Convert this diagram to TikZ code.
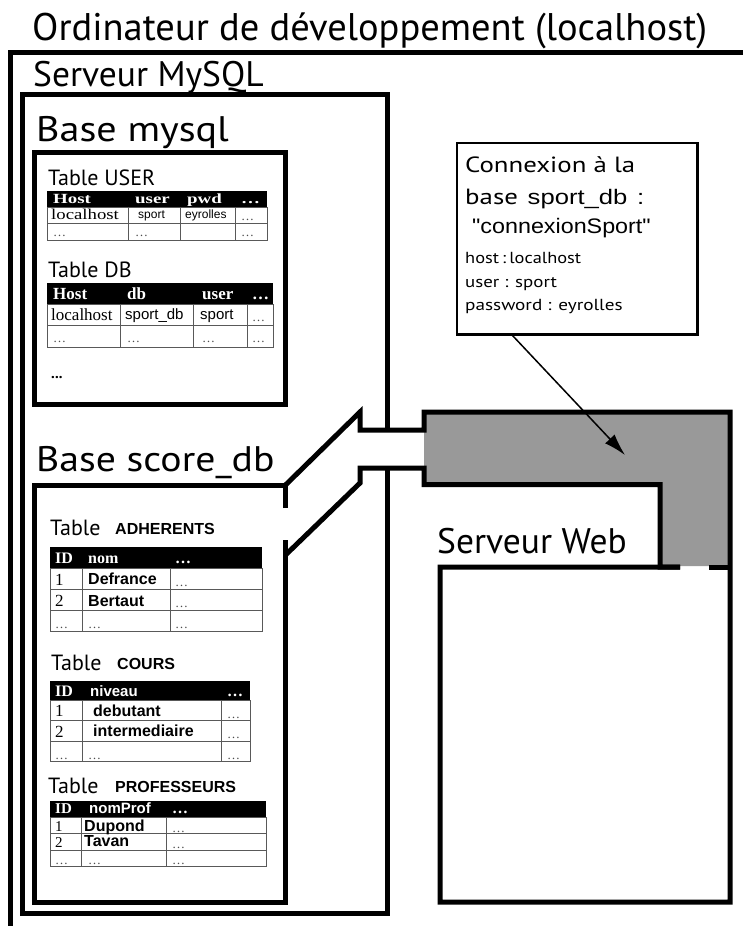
\documentclass[tikz,border=0pt]{standalone}
\usepackage{graphicx}
\usepackage{fontspec}
\setmainfont{PT Sans}
\newfontfamily\arialf{Liberation Sans}
\newfontfamily\timesf{Liberation Serif}
\usetikzlibrary{arrows.meta,calc}

\tikzset{
  frame/.style={line width=5pt, line join=miter},
  cellline/.style={draw=black!65, line width=1pt},
  biglabel/.style={anchor=base west, inner sep=0pt, font=\fontsize{35.5}{40}\selectfont},
  tabtitle/.style={anchor=base west, inner sep=0pt, font=\fontsize{22}{26}\selectfont},
  tabname/.style={anchor=base west, inner sep=0pt, font=\arialf\bfseries\fontsize{16}{18}\selectfont},
  hdr/.style={anchor=base west, inner sep=0pt, text=white, font=\timesf\bfseries\fontsize{16}{18}\selectfont},
  hdrsans/.style={hdr, font=\arialf\bfseries\fontsize{15}{18}\selectfont},
  celltxt/.style={anchor=base west, inner sep=0pt, font=\timesf\fontsize{16}{18}\selectfont},
  cellsans/.style={anchor=base west, inner sep=0pt, font=\arialf\fontsize{15}{18}\selectfont},
  cellbold/.style={anchor=base west, inner sep=0pt, font=\arialf\bfseries\fontsize{16}{18}\selectfont},
  dots/.style={anchor=base west, inner sep=0pt, text=black!70, font=\timesf\fontsize{13}{15}\selectfont},
  conntxt/.style={anchor=base west, inner sep=0pt, font=\fontsize{22}{26}\selectfont},
  connsmall/.style={anchor=base west, inner sep=0pt, font=\fontsize{16}{19}\selectfont},
}

% stretched text
\newcommand{\wide}[2]{\scalebox{#1}[1]{#2}}

% table: left, right, header top, header bottom, row height, rows, column lines
\newcommand{\tablegrid}[7]{%
  \fill[black] (#1,#3) rectangle (#2,#4);
  \draw[cellline] (#1,#4) rectangle (#2,{#4+#6*#5});
  \pgfmathtruncatemacro\lastrow{#6-1}
  \foreach \r in {1,...,\lastrow} \draw[cellline] (#1,{#4+\r*#5}) -- (#2,{#4+\r*#5});
  \foreach \c in {#7} \draw[cellline] (\c,#4) -- (\c,{#4+#6*#5});
}

\begin{document}
\begin{tikzpicture}[x=1pt,y=-1pt]
\useasboundingbox (0,0) rectangle (743,926);

% ordinateur
\begin{scope}
\clip (0,0) rectangle (743,926);
\draw[frame] (760,52.5) -- (10.5,52.5) -- (10.5,928) -- (760,928);
\end{scope}
\node[biglabel, font=\fontsize{38.5}{44}\selectfont] (title) at (32,40) {Ordinateur de développement (localhost)};

% serveur mysql
\draw[frame] (387,430) -- (387,94.5) -- (22.5,94.5) -- (22.5,913) -- (387,913) -- (387,468);
\node[biglabel] (mysqllabel) at (33,86) {Serveur MySQL};

% base mysql
\draw[frame] (34.5,152.5) rectangle (285.5,404.5);
\node[biglabel] (mysqlbase) at (36,141) {\wide{1.13}{Base mysql}};

\node[tabtitle] (usertitle) at (48,185.5) {Table USER};
\tablegrid{47}{267}{191}{207}{16.5}{2}{128,180,235}
\foreach \x/\t [count=\i] in {53/Host,135/user,187/pwd,241/\ldots}
  \node[hdr, font=\timesf\bfseries\fontsize{14}{16}\selectfont] (userh\i) at (\x,203.5) {\wide{1.35}{\t}};
\node[celltxt, font=\timesf\fontsize{15}{18}\selectfont] (user11) at (51,219.5) {\wide{1.25}{localhost}};
\node[cellsans, font=\arialf\fontsize{12}{14}\selectfont] (user12) at (138,218.5) {sport};
\node[cellsans, font=\arialf\fontsize{12}{14}\selectfont] (user13) at (185,218.5) {eyrolles};
\node[dots] (user14) at (241,220) {\ldots};
\foreach \x [count=\i] in {53,135,241}
  \node[dots] (user2\i) at (\x,236.5) {\ldots};

\node[tabtitle] (dbtitle) at (48,277) {Table DB};
\tablegrid{47}{273}{283}{304}{21.5}{2}{120,193,247}
\foreach \x/\t [count=\i] in {53/Host,127/db,202/user,252/\ldots}
  \node[hdr, font=\timesf\bfseries\fontsize{17}{19}\selectfont] (dbh\i) at (\x,299.5) {\t};
\node[celltxt, font=\timesf\fontsize{17}{19}\selectfont] (db11) at (51,320.5) {localhost};
\node[cellsans] (db12) at (125,319.5) {sport\_db};
\node[cellsans] (db13) at (200,319.5) {sport};
\node[dots] (db14) at (252,321) {\ldots};
\foreach \x [count=\i] in {53,127,202,252}
  \node[dots] (db2\i) at (\x,342.5) {\ldots};
\node[anchor=base west, inner sep=0pt, font=\bfseries\fontsize{15}{18}\selectfont] (mysqlmore) at (51,378) {...};

% base score_db
\draw[frame] (285.5,508) -- (285.5,485) -- (34.5,485) -- (34.5,902) -- (285.5,902) -- (285.5,540);
\node[biglabel] (scorebase) at (36,471) {\wide{1.12}{Base score\_db}};

\node[tabtitle] (adhtitle) at (50,535) {Table};
\node[tabname] (adhname) at (115,534) {ADHERENTS};
\tablegrid{50}{262}{547}{568}{21.3}{3}{82,170}
\node[hdr] (adhh1) at (55,563.5) {ID};
\node[hdr] (adhh2) at (88,563.5) {nom};
\node[hdr] (adhh3) at (175,563.5) {\ldots};
\node[celltxt, font=\timesf\fontsize{17}{19}\selectfont] (adh11) at (55,585) {1};
\node[cellbold] (adh12) at (88,584.5) {Defrance};
\node[dots] (adh13) at (175,586) {\ldots};
\node[celltxt, font=\timesf\fontsize{17}{19}\selectfont] (adh21) at (55,606.5) {2};
\node[cellbold] (adh22) at (88,606) {Bertaut};
\node[dots] (adh23) at (175,607.5) {\ldots};
\foreach \x [count=\i] in {55,88,175}
  \node[dots] (adh3\i) at (\x,628.5) {\ldots};

\node[tabtitle] (courstitle) at (51,670) {Table};
\node[tabname] (coursname) at (117,669) {COURS};
\tablegrid{50}{250}{681}{700}{20.6}{3}{82,221}
\node[hdr] (coursh1) at (55,696) {ID};
\node[hdrsans] (coursh2) at (90,696) {niveau};
\node[hdr] (coursh3) at (227,696) {\ldots};
\node[celltxt, font=\timesf\fontsize{17}{19}\selectfont] (cours11) at (55,716.5) {1};
\node[cellbold] (cours12) at (93,716) {debutant};
\node[dots] (cours13) at (227,718) {\ldots};
\node[celltxt, font=\timesf\fontsize{17}{19}\selectfont] (cours21) at (55,737) {2};
\node[cellbold] (cours22) at (93,736.5) {intermediaire};
\node[dots] (cours23) at (227,738.5) {\ldots};
\foreach \x [count=\i] in {55,88,227}
  \node[dots] (cours3\i) at (\x,759) {\ldots};

\node[tabtitle] (proftitle) at (48,793) {Table};
\node[tabname] (profname) at (115,792) {PROFESSEURS};
\tablegrid{50}{266}{801}{817}{16.6}{3}{81,166}
\node[hdr, font=\timesf\bfseries\fontsize{15}{18}\selectfont] (profh1) at (55,813) {ID};
\node[hdrsans] (profh2) at (89,813) {nomProf};
\node[hdr] (profh3) at (172,813) {\ldots};
\node[celltxt, font=\timesf\fontsize{15}{18}\selectfont] (prof11) at (55,831) {1};
\node[cellbold, font=\arialf\bfseries\fontsize{16}{18}\selectfont] (prof12) at (84,831) {Dupond};
\node[dots] (prof13) at (172,832) {\ldots};
\node[celltxt, font=\timesf\fontsize{15}{18}\selectfont] (prof21) at (55,847) {2};
\node[cellbold, font=\arialf\bfseries\fontsize{16}{18}\selectfont] (prof22) at (84,846) {Tavan};
\node[dots] (prof23) at (172,848.5) {\ldots};
\foreach \x [count=\i] in {55,88,172}
  \node[dots] (prof3\i) at (\x,864) {\ldots};

% connexion (tuyau)
\fill[black!40] (424,412) -- (730,412) -- (730,566) -- (660,566) -- (660,484.5) -- (424,484.5) -- cycle;
\draw[frame] (285.5,485) -- (360,412) -- (360,430) -- (424,430) -- (424,412) -- (730,412) -- (730,902) -- (440,902) -- (440,567) -- (680,567);
\draw[frame] (285.5,555) -- (360,483) -- (360,468) -- (424,468) -- (424,484.5) -- (660,484.5) -- (660,567) -- (680,567);
\draw[frame] (709,567) -- (730,567);

% serveur web
\node[biglabel] (weblabel) at (437,553) {Serveur Web};

% boite connexion
\node[draw, line width=2.5pt, minimum width=240.5pt, minimum height=191.5pt, anchor=north west, inner sep=0pt] (conn) at (455.5,141.5) {};
\node[conntxt] (conn1) at (465,172) {\wide{1.22}{Connexion à la}};
\node[conntxt] (conn2) at (465,204) {\wide{1.22}{base\hspace{8pt}{\arialf\fontsize{21}{25}\selectfont sport\_db\hspace{8pt}:}}};
\node[conntxt, font=\arialf\fontsize{21}{25}\selectfont] (conn3) at (472,233) {\wide{1.11}{"connexionSport"}};
\node[connsmall] (conn4) at (465,263) {\wide{1.15}{host\,:\,localhost}};
\node[connsmall] (conn5) at (465,287) {\wide{1.18}{user : sport}};
\node[connsmall] (conn6) at (465,310) {\wide{1.2}{password : eyrolles}};
\coordinate (pipetip) at (625,455);
\draw[line width=1.5pt, -{Latex[length=22pt,width=13pt]}] ($(conn.south west)+(57,0)$) -- (pipetip);
\end{tikzpicture}
\end{document}
